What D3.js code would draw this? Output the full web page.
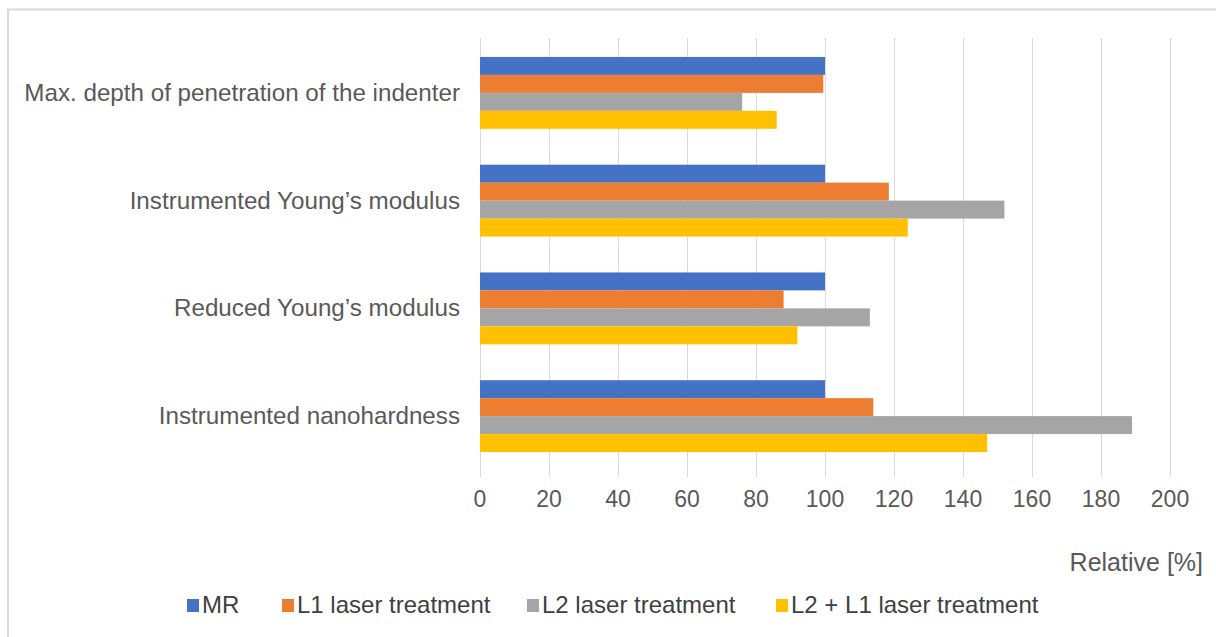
<!DOCTYPE html>
<html>
<head>
<meta charset="utf-8">
<script src="https://cdn.jsdelivr.net/npm/d3@7"></script>
<style>
  body { margin: 0; background: #ffffff; }
  svg { font-family: "Liberation Sans", Arial, sans-serif; }
</style>
</head>
<body>
<div id="chart"></div>
<script>
// categories, top to bottom
const categories = [
  "Max. depth of penetration of the indenter",
  "Instrumented Young\u2019s modulus",
  "Reduced Young\u2019s modulus",
  "Instrumented nanohardness"
];

const seriesNames = ["MR", "L1 laser treatment", "L2 laser treatment", "L2 + L1 laser treatment"];
const seriesColors = ["#4472C4", "#ED7D31", "#A5A5A5", "#FFC000"];

// values per series, same order as categories
const mrValues = [100, 100, 100, 100];
const l1Values = [99.5, 118.5, 88, 114];
const l2Values = [76, 152, 113, 189];
const l2l1Values = [86, 124, 92, 147];

const xTicks = [0, 20, 40, 60, 80, 100, 120, 140, 160, 180, 200];

const allSeries = [mrValues, l1Values, l2Values, l2l1Values];

const width = 1216,
  height = 637;

const svg = d3
  .select("#chart")
  .append("svg")
  .attr("width", width)
  .attr("height", height);

// chart border (left and top visible)
svg
  .append("rect")
  .attr("x", 8)
  .attr("y", 9.5)
  .attr("width", 1240)
  .attr("height", 700)
  .attr("fill", "none")
  .attr("stroke", "#d9d9d9")
  .attr("stroke-width", 2);

//scales
const x = d3.scaleLinear().domain([0, 200]).range([480, 1170]);

const y = d3
  .scaleBand()
  .domain(categories)
  .range([39, 470])
  .paddingInner(0.333)
  .paddingOuter(0.1665);

const ySub = d3
  .scaleBand()
  .domain(d3.range(seriesNames.length))
  .range([0, y.bandwidth()]);

// gridlines + tick marks
svg
  .append("g")
  .selectAll("line")
  .data(xTicks)
  .enter()
  .append("line")
  .attr("x1", (d) => Math.round(x(d)) + 0.5)
  .attr("x2", (d) => Math.round(x(d)) + 0.5)
  .attr("y1", 38)
  .attr("y2", 477)
  .attr("stroke", "#d9d9d9")
  .attr("stroke-width", 1);

// bars
const rows = [];
categories.forEach((c, ci) => {
  allSeries.forEach((vals, si) => {
    rows.push({ cat: c, s: si, value: vals[ci] });
  });
});

svg
  .append("g")
  .selectAll("rect")
  .data(rows)
  .enter()
  .append("rect")
  .attr("x", x(0))
  .attr("y", (d) => y(d.cat) + ySub(d.s))
  .attr("width", (d) => x(d.value) - x(0))
  .attr("height", ySub.bandwidth())
  .attr("fill", (d) => seriesColors[d.s]);

// x axis tick labels
svg
  .append("g")
  .selectAll("text")
  .data(xTicks)
  .enter()
  .append("text")
  .attr("x", (d) => x(d))
  .attr("y", 507)
  .attr("text-anchor", "middle")
  .style("font-size", "23px")
  .attr("fill", "#595959")
  .text((d) => d);

// category labels
svg
  .append("g")
  .selectAll("text")
  .data(categories)
  .enter()
  .append("text")
  .attr("x", 460)
  .attr("y", (d) => y(d) + y.bandwidth() / 2 + 8)
  .attr("text-anchor", "end")
  .style("font-size", "24.2px")
  .attr("fill", "#595959")
  .text((d) => d);

// axis title
svg
  .append("text")
  .attr("x", 1203)
  .attr("y", 571)
  .attr("text-anchor", "end")
  .style("font-size", "25px")
  .attr("fill", "#595959")
  .text("Relative [%]");

// legend
const legendX = [187, 282, 527, 776];
const legend = svg
  .append("g")
  .selectAll("g")
  .data(seriesNames)
  .enter()
  .append("g")
  .attr("transform", (d, i) => "translate(" + legendX[i] + ",0)");

legend
  .append("rect")
  .attr("x", 0)
  .attr("y", 599)
  .attr("width", 12)
  .attr("height", 13)
  .attr("fill", (d, i) => seriesColors[i]);

legend
  .append("text")
  .attr("x", 15)
  .attr("y", 613)
  .style("font-size", "24px")
  .attr("fill", "#404040")
  .text((d) => d);
</script>
</body>
</html>
